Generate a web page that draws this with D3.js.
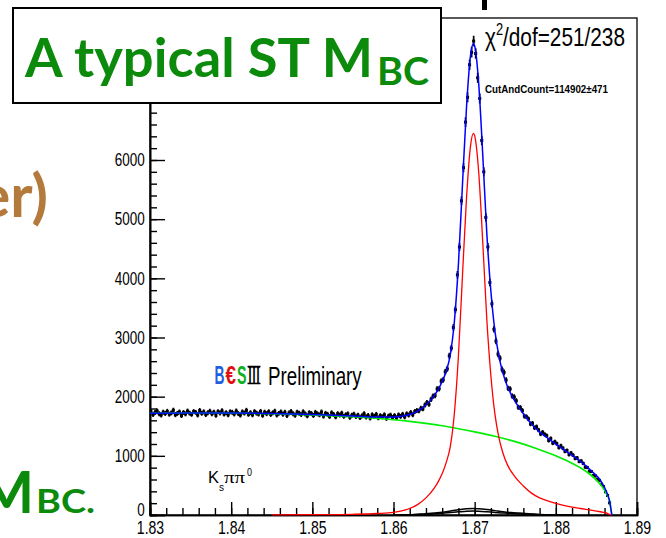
<!DOCTYPE html>
<html><head><meta charset="utf-8">
<script src="https://cdn.jsdelivr.net/npm/d3@7/dist/d3.min.js"></script>
<style>body{margin:0;background:#fff}svg{display:block}</style>
</head><body><svg id="c" width="666" height="538"></svg>
<script>
// ---------------- data ----------------
const xTicks = [1.83, 1.84, 1.85, 1.86, 1.87, 1.88, 1.89];
const yTicks = [0, 1000, 2000, 3000, 4000, 5000, 6000];
const binStart = 1.83, binWidth = 0.00025;
const dataCounts = [
1745,1698,1731,1760,1712,1689,1738,1716,1752,1703,
1726,1771,1694,1718,1741,1680,1733,1709,1757,1722,
1701,1748,1735,1690,1766,1719,1743,1697,1728,1754,
1711,1739,1683,1747,1725,1762,1704,1730,1692,1744,
1736,1707,1758,1715,1688,1742,1723,1769,1701,1729,
1693,1747,1721,1706,1751,1684,1738,1712,1745,1699,
1727,1754,1690,1718,1742,1703,1736,1681,1724,1749,
1712,1686,1739,1721,1697,1744,1708,1676,1729,1715,
1682,1735,1710,1693,1741,1670,1718,1702,1664,1727,
1699,1658,1713,1688,1721,1667,1694,1709,1650,1686,
1703,1662,1689,1645,1677,1712,1656,1681,1638,1694,
1667,1701,1642,1679,1660,1694,1631,1672,1688,1649,
1680,1645,1692,1666,1702,1658,1710,1689,1732,1694,
1748,1765,1760,1804,1795,1860,1902,1871,1955,2010,
2020,2130,2135,2260,2285,2420,2470,2690,2820,3170,
3470,4060,4530,5310,5870,6640,7060,7610,7820,8010,
7800,7390,7040,6330,5800,5030,4530,3930,3570,3140,
2940,2720,2650,2460,2410,2280,2140,2130,2010,1995,
1930,1820,1815,1765,1670,1660,1625,1540,1550,1475,
1490,1435,1370,1398,1362,1340,1260,1292,1215,1238,
1205,1140,1168,1130,1075,1090,1022,1048,1010,958,
965,905,912,872,810,803,740,735,668,660,
598,585,520,482,392,330,205
];
// background (green)
const bkgMass = [1.830,1.835,1.840,1.845,1.850,1.855,1.860,1.862,1.864,1.866,1.868,1.870,1.8725,1.875,1.8775,1.880,1.8815,1.883,1.884,1.885,1.8857,1.8862,1.8866,1.8869];
const bkgVal  = [1720,1724,1722,1712,1692,1660,1610,1582,1548,1508,1459,1405,1330,1240,1130,1000,910,800,710,590,480,370,240,0];
// signal (red)
const sigMass = [1.845,1.850,1.855,1.858,1.860,1.861,1.862,1.863,1.864,1.865,1.8655,1.866,1.8665,1.867,1.8675,1.868,1.8685,1.869,1.8695,1.86985,1.870,1.8705,1.871,1.8715,1.872,1.8725,1.873,1.8735,1.874,1.875,1.876,1.877,1.878,1.879,1.880,1.8815,1.883,1.8845,1.8855,1.8862,1.8866,1.8869];
const sigVal  = [2,5,12,25,45,70,110,180,290,450,560,700,890,1160,1720,2693,4051,5365,6251,6450,6413,5790,4603,3300,2350,1700,1300,1040,860,640,490,370,290,240,195,145,110,80,55,35,10,0];
// peaking background (black)
const peakMass = [1.860,1.861,1.862,1.863,1.864,1.865,1.866,1.867,1.868,1.869,1.86985,1.8705,1.8715,1.8725,1.8735,1.8745,1.8755,1.877,1.878,1.880,1.882];
const peakVal  = [0,3,6,13,20,34,48,68,88,106,111,106,92,74,56,42,32,18,10,3,0];
const peakVal2 = [0,2,4,8,12,20,29,41,53,64,67,64,55,44,34,25,19,11,6,2,0];
// total fit (blue)
const totMass = [1.830,1.835,1.840,1.845,1.850,1.855,1.858,1.860,1.861,1.862,1.863,1.864,1.865,1.8655,1.866,1.8665,1.867,1.8675,1.868,1.8685,1.869,1.8695,1.86985,1.870,1.8705,1.871,1.8715,1.872,1.8725,1.873,1.8735,1.874,1.875,1.876,1.877,1.878,1.879,1.880,1.8815,1.883,1.8845,1.8855,1.8862,1.8866,1.8869];
const totVal  = [1720,1724,1722,1715,1698,1672,1655,1655,1669,1698,1759,1858,2014,2120,2256,2434,2712,3270,4240,5595,6903,7780,7971,7929,7286,6078,4752,3778,3104,2677,2390,2185,1915,1711,1540,1404,1298,1198,1056,910,730,585,405,250,0];

// ---------------- drawing ----------------
const svg = d3.select("#c");
const X0 = 150, X1 = 637, Y0 = 515, Y1 = 18;
const x = d3.scaleLinear().domain([1.83, 1.89]).range([X0, X1]);
const y = d3.scaleLinear().domain([0, 8400]).range([Y0, Y1]);
const rootFont = "'Liberation Sans', Arial, sans-serif";

svg.append("rect").attr("x", X0).attr("y", Y1).attr("width", X1 - X0).attr("height", Y0 - Y1)
  .attr("fill", "#fff").attr("stroke", "#000").attr("stroke-width", 1.3);

// axes
function styleAxis(g, sx, fs) {
  g.select(".domain").attr("stroke", "#000").attr("stroke-width", 1.6);
  g.selectAll(".tick line").attr("stroke", "#000").attr("stroke-width", 1.4);
  g.selectAll("text").attr("font-family", rootFont).attr("font-size", fs).attr("fill", "#000")
    .attr("transform", `scale(${sx},1)`);
}
const gxm = svg.append("g").attr("transform", `translate(0,${Y0})`)
  .call(d3.axisBottom(x).tickValues(d3.range(0, 31).map(i => 1.83 + i * 0.002)).tickSize(-7).tickFormat(""));
styleAxis(gxm, 1, 10);
const gx = svg.append("g").attr("transform", `translate(0,${Y0})`)
  .call(d3.axisBottom(x).tickValues(xTicks).tickSize(-13).tickPadding(6).tickFormat(d3.format(".2f")));
styleAxis(gx, 0.78, 18);

const gym = svg.append("g").attr("transform", `translate(${X0},0)`)
  .call(d3.axisLeft(y).tickValues(d3.range(0, 8401, 200)).tickSize(-7).tickFormat(""));
styleAxis(gym, 1, 10);
const gy = svg.append("g").attr("transform", `translate(${X0},0)`)
  .call(d3.axisLeft(y).tickValues(yTicks).tickSize(-15).tickPadding(7).tickFormat(d3.format("d")));
styleAxis(gy, 0.75, 18);
gy.selectAll("text").filter(d => d === 0).attr("dy", "0.05em");

// plot area
svg.append("defs").append("clipPath").attr("id", "pc").append("rect")
  .attr("x", X0).attr("y", Y1).attr("width", X1 - X0).attr("height", Y0 - Y1 + 1);
const plot = svg.append("g").attr("clip-path", "url(#pc)");

const bins = dataCounts.map((v, i) => ({ m: binStart + (i + 0.5) * binWidth, v }));
const dg = plot.append("g");
dg.selectAll("line.err").data(bins).join("line").attr("class", "err")
  .attr("x1", d => x(d.m)).attr("x2", d => x(d.m))
  .attr("y1", d => y(d.v - Math.sqrt(d.v))).attr("y2", d => y(d.v + Math.sqrt(d.v)))
  .attr("stroke", "#000").attr("stroke-width", 1.7);
dg.selectAll("line.bw").data(bins).join("line").attr("class", "bw")
  .attr("x1", d => x(d.m - binWidth / 2)).attr("x2", d => x(d.m + binWidth / 2))
  .attr("y1", d => y(d.v)).attr("y2", d => y(d.v))
  .attr("stroke", "#000").attr("stroke-width", 1.6);
dg.selectAll("rect").data(bins).join("rect")
  .attr("x", d => x(d.m) - 1.5).attr("y", d => y(d.v) - 1.5).attr("width", 3).attr("height", 3)
  .attr("fill", "#000");

const line = d3.line().x(d => x(d[0])).y(d => y(d[1])).curve(d3.curveMonotoneX);
function drawCurve(ms, vs, color, w) {
  plot.append("path").attr("d", line(ms.map((m, i) => [m, vs[i]])))
    .attr("fill", "none").attr("stroke", color).attr("stroke-width", w);
}
drawCurve(bkgMass, bkgVal, "#00ee00", 1.6);
drawCurve(sigMass, sigVal, "#ff0000", 1.3);
drawCurve(peakMass, peakVal, "#000000", 1.5);
drawCurve(peakMass, peakVal2, "#000000", 1.5);
drawCurve(totMass, totVal, "#0000ff", 1.5);

// ROOT texts
svg.append("text").attr("transform", "translate(485,46) scale(0.8,1)")
  .attr("font-family", rootFont).attr("font-size", 26).attr("fill", "#000")
  .call(t => {
    t.append("tspan").text("χ");
    t.append("tspan").attr("font-size", 16).attr("dy", -11).text("2");
    t.append("tspan").attr("dy", 11).text("/dof=251/238");
  });
svg.append("text").attr("x", 485).attr("y", 93)
  .attr("font-family", rootFont).attr("font-weight", "bold").attr("font-size", 10.5).attr("fill", "#000")
  .attr("textLength", 123).attr("lengthAdjust", "spacingAndGlyphs")
  .text("CutAndCount=114902±471");

// BESIII Preliminary (logo as one text element)
const logo = svg.append("text").attr("y", 384).attr("font-family", rootFont).attr("font-weight", "bold").attr("font-size", 26);
logo.append("tspan").attr("x", 214.5).attr("fill", "#1f5fe0").attr("textLength", 10).attr("lengthAdjust", "spacingAndGlyphs").text("B");
logo.append("tspan").attr("x", 225.5).attr("fill", "#e01010").attr("textLength", 10.5).attr("lengthAdjust", "spacingAndGlyphs").text("€");
logo.append("tspan").attr("x", 237).attr("fill", "#10b020").attr("textLength", 9.5).attr("lengthAdjust", "spacingAndGlyphs").text("S");
logo.append("tspan").attr("x", 248).attr("fill", "#000").attr("font-family", "'Liberation Serif', serif")
  .attr("textLength", 12).attr("lengthAdjust", "spacingAndGlyphs").text("III");
svg.append("line").attr("x1", 247.5).attr("x2", 260.5).attr("y1", 366.5).attr("y2", 366.5).attr("stroke", "#000").attr("stroke-width", 1.5);
svg.append("line").attr("x1", 247.5).attr("x2", 260.5).attr("y1", 383.5).attr("y2", 383.5).attr("stroke", "#000").attr("stroke-width", 1.5);
svg.append("text").attr("transform", "translate(268,385) scale(0.75,1)")
  .attr("font-family", rootFont).attr("font-size", 25).attr("fill", "#000").text("Preliminary");

// K_s pi pi^0 (one text element)
const kt = svg.append("text").attr("y", 483).attr("font-family", rootFont).attr("fill", "#000").attr("font-size", 17);
kt.append("tspan").attr("x", 208).attr("textLength", 11).attr("lengthAdjust", "spacingAndGlyphs").text("K");
kt.append("tspan").attr("x", 219).attr("dy", 8).attr("font-size", 11).attr("textLength", 5).attr("lengthAdjust", "spacingAndGlyphs").text("s");
kt.append("tspan").attr("x", 224).attr("dy", -8).attr("font-family", "'Liberation Serif', serif")
  .attr("textLength", 21).attr("lengthAdjust", "spacingAndGlyphs").text("ππ");
kt.append("tspan").attr("x", 247).attr("dy", -7).attr("font-size", 11).attr("textLength", 5).attr("lengthAdjust", "spacingAndGlyphs").text("0");

// ---------------- slide overlay ----------------
svg.append("rect").attr("x", 482).attr("y", 0).attr("width", 5).attr("height", 10).attr("fill", "#000");

svg.append("text").attr("x", 48).attr("y", 217).attr("text-anchor", "end")
  .attr("font-family", "Lato, 'Open Sans', sans-serif").attr("font-weight", "bold").attr("font-size", 60)
  .attr("fill", "#b37a3c").text("er)");

const green = "#0b8a0b";
svg.append("text").attr("x", 34).attr("y", 513).attr("text-anchor", "end")
  .attr("font-family", "Lato, 'Open Sans', sans-serif").attr("font-weight", "bold").attr("font-size", 58)
  .attr("fill", green).text("M");
svg.append("text").attr("x", 36).attr("y", 513)
  .attr("font-family", "Lato, 'Open Sans', sans-serif").attr("font-weight", "bold").attr("font-size", 33)
  .attr("fill", green).attr("textLength", 59).attr("lengthAdjust", "spacingAndGlyphs").text("BC.");

svg.append("rect").attr("x", 13).attr("y", 8).attr("width", 428).attr("height", 95)
  .attr("fill", "#fff").attr("stroke", "#000").attr("stroke-width", 2);
svg.append("text").attr("x", 25).attr("y", 77)
  .attr("font-family", "Lato, 'Open Sans', sans-serif").attr("font-weight", "bold").attr("font-size", 53)
  .attr("fill", green).attr("textLength", 348).attr("lengthAdjust", "spacingAndGlyphs").text("A typical ST M");
svg.append("text").attr("x", 377).attr("y", 85)
  .attr("font-family", "Lato, 'Open Sans', sans-serif").attr("font-weight", "bold").attr("font-size", 38)
  .attr("fill", green).attr("textLength", 52).attr("lengthAdjust", "spacingAndGlyphs").text("BC");
</script>
</body></html>
